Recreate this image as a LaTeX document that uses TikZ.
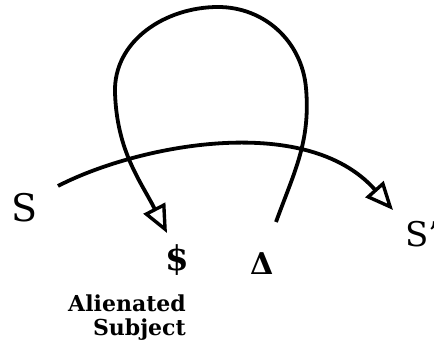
\documentclass[tikz,border=0pt]{standalone}
\usepackage{fontspec}
\setmainfont{DejaVu Serif}
\usetikzlibrary{arrows.meta}
\tikzset{
  curve/.style={line width=3.8pt, -{Triangle[open,length=28pt,width=24pt,line width=3.4pt]}},
  sym/.style={inner sep=0pt, font=\fontsize{38}{40}\selectfont},
  lbl/.style={inner sep=0pt, anchor=base east, font=\bfseries\fontsize{22}{24}\selectfont}
}
\begin{document}
\begin{tikzpicture}[x=1pt,y=1pt]
\useasboundingbox (0,0) rectangle (434,343);
% labels
\node[sym, anchor=base west] (S) at (11,121) {S};
\node[sym, anchor=base west, font=\fontsize{34}{36}\selectfont] (Sp) at (405,96) {S'};
\node[sym, font=\bfseries\fontsize{34}{36}\selectfont] (barS) at (177,83) {\$};
\node[sym, anchor=base west, font=\bfseries\fontsize{30}{32}\selectfont] (D) at (250,68) {Δ};
\node[lbl] (al) at (186,31) {Alienated};
\node[lbl] (su) at (186,8) {Subject};
% free ends
\coordinate (hs) at (58,157);
\coordinate (he) at (393,133);
\coordinate (ls) at (276,121);
\coordinate (le) at (167,110);
% horizontal vector S -> S'
\draw[curve] (hs) .. controls (135,197) and (305,232) .. (he);
% retroactive loop from Delta to barred S
\draw[curve] (ls) to[out=70,in=-85] (306,255) to[out=95,in=0] (218,336)
  to[out=180,in=92] (115,250) to[out=-88,in=117] (le);
\end{tikzpicture}
\end{document}
